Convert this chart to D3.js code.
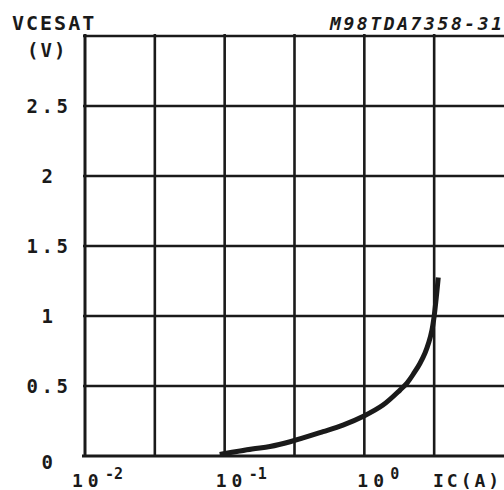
<!DOCTYPE html>
<html>
<head>
<meta charset="utf-8">
<script src="https://cdn.jsdelivr.net/npm/d3@7"></script>
<style>
  html, body { margin: 0; padding: 0; background: #fff; }
  svg { display: block; }
  text { font-family: "DejaVu Sans Mono", monospace; font-weight: bold; fill: #1a1a1a; }
</style>
</head>
<body>
<div id="viz"></div>
<script>
// Curve data: IC (A) vs VCE(sat) (V)
const icValues = [0.096, 0.157, 0.211, 0.294, 0.506, 0.703, 0.994, 1.36, 1.80, 2.02, 2.27, 2.50, 2.72, 2.90, 3.05, 3.15, 3.26, 3.37];
const vceValues = [0.014, 0.05, 0.068, 0.102, 0.174, 0.221, 0.286, 0.364, 0.471, 0.521, 0.593, 0.661, 0.736, 0.814, 0.9, 0.986, 1.114, 1.257];

// Grid / ticks
const yTicks = [0, 0.5, 1, 1.5, 2, 2.5];
const yLabels = ["0", "0.5", "1", "1.5", "2", "2.5"];
const yGrid = [0.5, 1, 1.5, 2, 2.5, 3];
const xGridExp = [-2, -1.5, -1, -0.5, 0, 0.5]; // half decades
const xLabelExp = [-2, -1, 0];
const xLabelSup = ["-2", "-1", "0"];

const w = 504, h = 490;
const margin = {top: 36, left: 85, bottom: 34, right: 0};

const x = d3.scaleLog()
  .domain([0.01, 10])
  .range([margin.left, w - margin.right]);

const y = d3.scaleLinear()
  .domain([0, 3])
  .range([h - margin.bottom, margin.top]);

const svg = d3.select("#viz")
  .append("svg")
  .attr("width", w)
  .attr("height", h);

const ink = "#1a1a1a";

// horizontal grid lines (3 = top border)
svg.append("g")
  .selectAll("line")
  .data(yGrid)
  .enter()
  .append("line")
  .attr("x1", margin.left - 2)
  .attr("x2", w)
  .attr("y1", d => y(d))
  .attr("y2", d => y(d))
  .attr("stroke", ink)
  .attr("stroke-width", 2.6);

// vertical grid lines
svg.append("g")
  .selectAll("line")
  .data(xGridExp)
  .enter()
  .append("line")
  .attr("x1", d => x(Math.pow(10, d)))
  .attr("x2", d => x(Math.pow(10, d)))
  .attr("y1", y(3) - 2)
  .attr("y2", y(0))
  .attr("stroke", ink)
  .attr("stroke-width", d => d === -2 ? 3 : 2.6);

// bottom axis line
svg.append("line")
  .attr("x1", margin.left - 3)
  .attr("x2", w)
  .attr("y1", y(0))
  .attr("y2", y(0))
  .attr("stroke", ink)
  .attr("stroke-width", 3);

// y labels
svg.append("g")
  .selectAll("text")
  .data(yTicks)
  .enter()
  .append("text")
  .attr("x", 49)
  .attr("y", d => y(d) + (d === 0 ? 13 : 7))
  .attr("text-anchor", "middle")
  .style("font-size", "19px")
  .style("letter-spacing", "3.5px")
  .text((d, i) => yLabels[i]);

// x labels: 10 with superscript exponent
const xl = svg.append("g")
  .selectAll("g")
  .data(xLabelExp)
  .enter()
  .append("g")
  .attr("transform", d => `translate(${x(Math.pow(10, d)) - (d === -2 ? 13 : d === -1 ? 9 : 7)},0)`);

xl.append("text")
  .attr("x", 0)
  .attr("y", 487)
  .style("font-size", "18px")
  .style("letter-spacing", "5px")
  .text("10");

xl.append("text")
  .attr("x", 33)
  .attr("y", 479)
  .style("font-size", "15px")
  .text((d, i) => xLabelSup[i]);

// axis titles
svg.append("text")
  .attr("x", 12)
  .attr("y", 30)
  .style("font-size", "20px")
  .style("letter-spacing", "2px")
  .text("VCESAT");

svg.append("text")
  .attr("x", 27)
  .attr("y", 57)
  .style("font-size", "19px")
  .style("letter-spacing", "2px")
  .text("(V)");

svg.append("text")
  .attr("x", 433)
  .attr("y", 487)
  .style("font-size", "18px")
  .style("letter-spacing", "3px")
  .text("IC(A)");

svg.append("text")
  .attr("x", 330)
  .attr("y", 30)
  .style("font-size", "18px")
  .style("font-style", "italic")
  .style("letter-spacing", "2.6px")
  .text("M98TDA7358-31");

// the curve
const line = d3.line()
  .x(d => x(d[0]))
  .y(d => y(d[1]))
  .curve(d3.curveCatmullRom.alpha(0.5));

svg.append("path")
  .datum(icValues.map((d, i) => [d, vceValues[i]]))
  .attr("d", line)
  .attr("fill", "none")
  .attr("stroke", ink)
  .attr("stroke-width", 5)
  .attr("stroke-linecap", "square");
</script>
</body>
</html>
